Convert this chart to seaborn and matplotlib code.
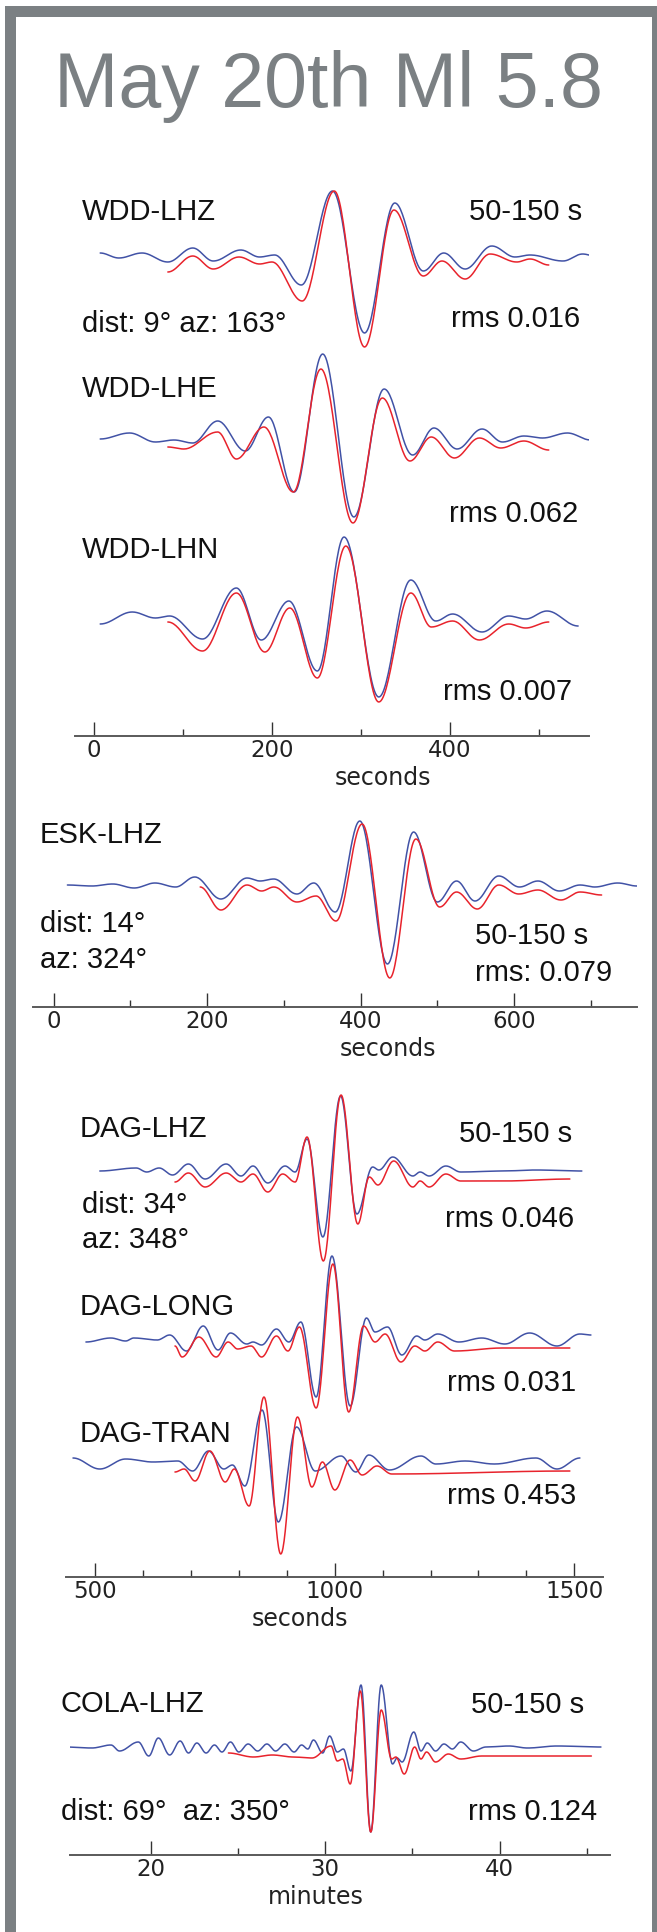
import numpy as np
import pandas as pd
import matplotlib
matplotlib.use("Agg")
import matplotlib.pyplot as plt
import seaborn as sns
from matplotlib.patches import Rectangle

# ---- data: extrema of each trace (time, amplitude) ----
# WDD (seconds)
wdd_lhz_t_obs = [7, 28, 54, 83, 111, 134, 165, 186, 203, 233, 268, 304, 338, 370, 393, 417, 447, 473, 490, 527, 549, 563]
wdd_lhz_a_obs = [2, -3, 2, -7, 7, -6, 5, -2, 0, -30, 64, -78, 52, -16, 2, -14, 9, -2, 0, -6, 1, -1]
wdd_lhz_t_syn = [83, 111, 134, 163, 186, 200, 234, 270, 304, 337, 370, 391, 417, 445, 475, 490, 511]
wdd_lhz_a_syn = [-17, -1, -14, -2, -9, -7, -46, 64, -92, 45, -21, -6, -24, 1, -7, -4, -10]

wdd_lhe_t_obs = [7, 40, 69, 90, 111, 139, 170, 196, 225, 257, 292, 326, 358, 382, 408, 436, 459, 483, 504, 532, 558]
wdd_lhe_a_obs = [0, 6, -3, -1, -4, 18, -12, 22, -53, 85, -78, 50, -16, 11, -10, 10, -3, 3, 1, 6, -1]
wdd_lhe_t_syn = [83, 101, 139, 160, 191, 224, 255, 291, 324, 355, 379, 405, 433, 457, 483, 511]
wdd_lhe_a_syn = [-8, -10, 7, -20, 12, -53, 70, -84, 41, -22, 2, -19, 1, -9, -2, -11]

wdd_lhn_t_obs = [7, 43, 69, 85, 122, 160, 188, 219, 251, 281, 320, 356, 384, 403, 436, 466, 485, 509, 544]
wdd_lhn_a_obs = [-3, 9, 3, 5, -18, 33, -19, 20, -50, 84, -76, 41, 0, 7, -11, 5, 2, 10, -5]
wdd_lhn_t_syn = [83, 122, 160, 192, 220, 251, 283, 320, 356, 379, 403, 433, 466, 485, 511]
wdd_lhn_a_syn = [-1, -30, 28, -31, 13, -57, 75, -81, 28, -6, 0, -19, -3, -7, -1]

# ESK (seconds)
esk_lhz_t_obs = [18, 50, 77, 105, 132, 159, 184, 218, 252, 269, 287, 317, 339, 367, 399, 435, 469, 500,
                 525, 549, 580, 607, 631, 659, 686, 705, 735, 760]
esk_lhz_a_obs = [1, 0, 2, -2, 3, -1, 9, -13, 8, 5, 7, -8, 3, -26, 65, -78, 54, -16,
                 5, -15, 10, -1, 5, -5, 1, -1, 3, 0]
esk_lhz_t_syn = [191, 218, 252, 271, 287, 317, 342, 368, 402, 438, 472, 503, 525, 552, 580, 606, 631, 661, 686, 714]
esk_lhz_a_syn = [-1, -24, 1, -5, -1, -16, -10, -35, 62, -92, 47, -21, -6, -23, 1, -8, -4, -14, -6, -9]

# DAG (seconds)
dag_lhz_t_obs = [509, 585, 607, 633, 661, 694, 729, 773, 804, 829, 860, 896, 917, 942, 975, 1012, 1046, 1079,
                 1092, 1121, 1163, 1178, 1197, 1232, 1263, 1351, 1420, 1516]
dag_lhz_a_obs = [0, 3, -1, 3, -4, 7, -8, 7, -5, 5, -12, 5, -1, 32, -66, 75, -43, 4,
                 1, 14, -5, -1, -5, 5, -1, 0, 1, 0]
dag_lhz_t_syn = [666, 694, 729, 773, 804, 829, 860, 891, 917, 942, 976, 1013, 1048, 1072, 1090, 1123, 1163,
                 1178, 1197, 1232, 1263, 1351, 1491]
dag_lhz_a_syn = [-11, -2, -16, -2, -11, -3, -21, -3, -11, 34, -90, 76, -53, -6, -14, 10, -16,
                 -10, -16, -3, -10, -10, -8]

dag_long_t_obs = [480, 532, 563, 580, 629, 655, 690, 725, 756, 782, 816, 829, 847, 878, 904, 929, 961, 994,
                  1032, 1066, 1084, 1110, 1140, 1171, 1188, 1215, 1259, 1307, 1355, 1407, 1464, 1512, 1535]
dag_long_a_obs = [-1, 3, 0, 3, 1, 6, -10, 15, -9, 8, -3, -1, -4, 12, -1, 19, -56, 85,
                  -65, 23, 9, 14, -14, 5, 1, 7, -1, 3, -3, 8, -5, 7, 6]
dag_long_t_syn = [666, 681, 716, 752, 777, 797, 825, 847, 878, 902, 926, 961, 996, 1029, 1060, 1084, 1105,
                  1138, 1167, 1188, 1215, 1250, 1350, 1491]
dag_long_a_syn = [-5, -16, 4, -16, -1, -8, -5, -16, 5, -10, 14, -67, 77, -71, 15, -1, 7,
                  -21, -5, -10, -1, -10, -7, -7]

dag_tran_t_obs = [453, 509, 563, 620, 672, 703, 736, 768, 786, 812, 848, 882, 920, 959, 1013, 1044, 1071,
                  1114, 1180, 1211, 1272, 1333, 1420, 1464, 1512]
dag_tran_a_obs = [4, -7, 3, 0, 1, -9, 11, -7, -3, -24, 52, -60, 35, -9, 6, -10, 7,
                  -8, 6, -2, 1, -2, 4, -7, 4]
dag_tran_t_syn = [666, 685, 708, 739, 771, 790, 821, 852, 887, 922, 952, 974, 1000, 1032, 1057, 1088, 1119, 1491]
dag_tran_a_syn = [-10, -7, -19, 11, -20, -7, -44, 65, -92, 45, -25, 0, -28, 2, -13, -4, -12, -9]

# COLA (minutes)
cola_lhz_t_obs = [15.07, 16.6, 17.7, 18.19, 19.27, 19.87, 20.42, 21.07, 21.67, 22.15, 22.63, 23.16, 23.64,
                  24.07, 24.56, 25.04, 25.57, 26.12, 26.65, 27.15, 27.68, 28.21, 28.64, 29.0, 29.32, 29.85,
                  30.25, 30.69, 31.04, 31.47, 32.05, 32.61, 33.21, 33.86, 34.12, 34.41, 35.08, 35.49, 35.85,
                  36.33, 36.81, 37.29, 37.77, 38.5, 39.22, 40.54, 41.6, 43.3, 45.82]
cola_lhz_a_obs = [0, -1, 2, -4, 5, -9, 9, -8, 6, -6, 4, -6, 2,
                  -5, 5, -5, 3, -4, 3, -4, 3, -5, 2, -2, 7, -6,
                  11, -5, -2, -24, 62, -85, 62, -17, -11, -15, 15, -4, 4,
                  -4, 3, -2, 5, -4, 0, 1, -1, 1, 0]
cola_lhz_t_syn = [24.44, 25.88, 26.96, 28.16, 29.24, 30.33, 30.69, 31.0, 31.43, 32.01, 32.61, 33.21, 33.81,
                  34.05, 34.53, 35.13, 35.49, 35.81, 36.33, 37.06, 37.77, 38.98, 45.27]
cola_lhz_a_syn = [-6, -10, -8, -10, -11, 1, -14, -12, -37, 56, -85, 37, -12,
                  -10, -27, 0, -12, -5, -15, -7, -12, -9, -9]

OBS_COLOR = "#4152a6"
SYN_COLOR = "#e8232c"
GREY = "#7b8083"
W, H = 657, 1933

sns.set_theme(style="white")
plt.rcParams["font.family"] = ["DejaVu Sans"]

fig = plt.figure(figsize=(W / 100, H / 100), dpi=100)
fig.patch.set_facecolor("white")


def wave(t, a, n=30):
    # half-cosine shaping between successive extrema
    t = np.asarray(t, float)
    a = np.asarray(a, float)
    s = np.linspace(0, 1, n, endpoint=False)
    w = (1 - np.cos(np.pi * s)) / 2
    tt = t[:-1, None] + (t[1:] - t[:-1])[:, None] * s
    aa = a[:-1, None] + (a[1:] - a[:-1])[:, None] * w
    return np.append(tt.ravel(), t[-1]), np.append(aa.ravel(), a[-1])


def draw(ax, t, a, off, color):
    x, y = wave(t, a)
    df = pd.DataFrame({"t": x, "amp": y + off})
    sns.lineplot(data=df, x="t", y="amp", ax=ax, color=color, lw=1.1,
                 estimator=None, sort=False)


def panel(top, bottom, left, right, xlim):
    ax = fig.add_axes([left / W, 1 - bottom / H, (right - left) / W, (bottom - top) / H])
    ax.set_xlim(xlim)
    ax.set_ylim(0, bottom - top)
    ax.patch.set_alpha(0)
    return ax


def finish(ax, major, minor, label, label_x):
    h = ax.get_ylim()[1]
    for s in ["left", "top", "right"]:
        ax.spines[s].set_visible(False)
    ax.spines["bottom"].set_color("#5a5a5a")
    ax.spines["bottom"].set_linewidth(1.4)
    ax.set_yticks([])
    ax.set_ylabel("")
    ax.set_xticks(major)
    ax.set_xticks(minor, minor=True)
    ax.tick_params(axis="x", which="both", bottom=True, top=False)
    ax.tick_params(axis="x", which="major", direction="in", length=10, width=1,
                   color="#333333", labelsize=16.5, labelcolor="#222222", pad=1.5)
    ax.tick_params(axis="x", which="minor", direction="in", length=5, width=1, color="#333333")
    ax.set_xlabel(label, fontsize=17, color="#222222")
    ax.xaxis.set_label_coords(label_x, -29.5 / h)


def label(x, y, s, ha="left", size=21, **kw):
    fig.text(x / W, 1 - y / H, s, ha=ha, va="baseline", fontsize=size,
             family="Liberation Sans", color="#111111", **kw)


# frame and title
fig.add_artist(Rectangle((9.5 / W, 1 - 1936.5 / H), 647 / W, 1925 / H, transform=fig.transFigure,
                         fill=False, edgecolor=GREY, linewidth=11 * 0.72))
fig.text(328.5 / W, 1 - 107 / H, "May 20th Ml 5.8", ha="center", va="baseline",
         fontsize=55.5, family="Liberation Sans", color=GREY)

# WDD panel
ax1 = panel(180, 737, 75, 589, (-21.3, 556.2))
draw(ax1, wdd_lhz_t_obs, wdd_lhz_a_obs, 481, OBS_COLOR)
draw(ax1, wdd_lhz_t_syn, wdd_lhz_a_syn, 481, SYN_COLOR)
draw(ax1, wdd_lhe_t_obs, wdd_lhe_a_obs, 297, OBS_COLOR)
draw(ax1, wdd_lhe_t_syn, wdd_lhe_a_syn, 297, SYN_COLOR)
draw(ax1, wdd_lhn_t_obs, wdd_lhn_a_obs, 115, OBS_COLOR)
draw(ax1, wdd_lhn_t_syn, wdd_lhn_a_syn, 115, SYN_COLOR)
finish(ax1, [0, 200, 400], [100, 300, 500], "seconds", 0.599)
label(82, 220, "WDD-LHZ")
label(582, 220, "50-150 s", ha="right")
label(82, 332, "dist: 9° az: 163°")
label(580, 327, "rms 0.016", ha="right")
label(82, 397, "WDD-LHE")
label(578, 522, "rms 0.062", ha="right")
label(82, 558, "WDD-LHN")
label(572, 700, "rms 0.007", ha="right")

# ESK panel
ax2 = panel(800, 1008, 33, 637, (-26.8, 760.1))
draw(ax2, esk_lhz_t_obs, esk_lhz_a_obs, 121, OBS_COLOR)
draw(ax2, esk_lhz_t_syn, esk_lhz_a_syn, 121, SYN_COLOR)
finish(ax2, [0, 200, 400, 600], [100, 300, 500, 700], "seconds", 0.587)
label(40, 843, "ESK-LHZ")
label(40, 932, "dist: 14°")
label(40, 968, "az: 324°")
label(475, 944, "50-150 s")
label(475, 981, "rms: 0.079")

# DAG panel
ax3 = panel(1080, 1578, 66, 603, (438.4, 1560.2))
draw(ax3, dag_lhz_t_obs, dag_lhz_a_obs, 406, OBS_COLOR)
draw(ax3, dag_lhz_t_syn, dag_lhz_a_syn, 406, SYN_COLOR)
draw(ax3, dag_long_t_obs, dag_long_a_obs, 236, OBS_COLOR)
draw(ax3, dag_long_t_syn, dag_long_a_syn, 236, SYN_COLOR)
draw(ax3, dag_tran_t_obs, dag_tran_a_obs, 115, OBS_COLOR)
draw(ax3, dag_tran_t_syn, dag_tran_a_syn, 115, SYN_COLOR)
finish(ax3, [500, 1000, 1500], [600, 700, 800, 900, 1100, 1200, 1300, 1400], "seconds", 0.436)
label(80, 1137, "DAG-LHZ")
label(572, 1142, "50-150 s", ha="right")
label(82, 1213, "dist: 34°")
label(82, 1248, "az: 348°")
label(574, 1227, "rms 0.046", ha="right")
label(80, 1315, "DAG-LONG")
label(576, 1391, "rms 0.031", ha="right")
label(80, 1442, "DAG-TRAN")
label(576, 1504, "rms 0.453", ha="right")

# COLA panel
ax4 = panel(1670, 1856, 70, 609.5, (15.35, 46.31))
draw(ax4, cola_lhz_t_obs, cola_lhz_a_obs, 108, OBS_COLOR)
draw(ax4, cola_lhz_t_syn, cola_lhz_a_syn, 108, SYN_COLOR)
finish(ax4, [20, 30, 40], [25, 35, 45], "minutes", 0.456)
label(61, 1712, "COLA-LHZ")
label(584, 1713, "50-150 s", ha="right")
label(61, 1820, "dist: 69°  az: 350°")
label(597, 1820, "rms 0.124", ha="right")

fig.savefig("out.png", dpi=100)
